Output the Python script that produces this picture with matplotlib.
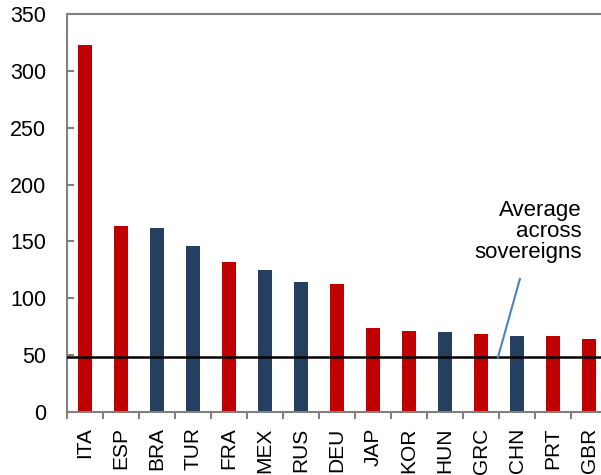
import matplotlib
matplotlib.use("Agg")
import matplotlib.pyplot as plt
import numpy as np

plt.rcParams['font.family'] = ['Liberation Sans', 'DejaVu Sans']

countries = ["ITA", "ESP", "BRA", "TUR", "FRA", "MEX", "RUS", "DEU",
             "JAP", "KOR", "HUN", "GRC", "CHN", "PRT", "GBR"]
values = [323, 164, 162, 146, 132, 125, 114, 113,
          74, 71, 70, 69, 67, 67, 64]
group = ["red", "red", "blue", "blue", "red", "blue", "blue", "red",
         "red", "red", "blue", "red", "blue", "red", "red"]
average = 48
yticks = [0, 50, 100, 150, 200, 250, 300, 350]

palette = {"red": "#C00000", "blue": "#243F60"}
colors = [palette[g] for g in group]

fig = plt.figure(figsize=(6.01, 4.75), dpi=100)
ax = fig.add_axes([67/601, 1-412/475, 540/601, (412-14)/475])

x = np.arange(len(countries))
ax.bar(x, values, width=0.39, color=colors, zorder=2)
ax.axhline(average, color="black", lw=1.8, zorder=3)

ax.set_xlim(-0.5, len(countries)-0.5)
ax.set_ylim(0, 350)
ax.set_yticks(yticks)
ax.set_yticklabels([str(v) for v in yticks], fontsize=15.5)
ax.set_xticks(x)
ax.set_xticklabels(countries, rotation=90, fontsize=15)
ax.tick_params(axis='x', which='major', length=0, pad=11)
ax.set_xticks(np.arange(-0.5, len(countries)), minor=True)
ax.tick_params(axis='x', which='minor', direction='out', length=5, width=1.5, color='#808080')
ax.tick_params(axis='y', direction='in', length=5, width=1.5, color='#808080', pad=15)

for s in ax.spines.values():
    s.set_color('#808080')
    s.set_linewidth(1.5)

ax.text(13.8, 186, "Average\nacross\nsovereigns", ha='right', va='top',
        fontsize=16, linespacing=1.0)
ax.plot([11.47, 12.08], [average, 117], color="#4F81BD", lw=1.5, zorder=4)

fig.savefig("out.png", dpi=100)
